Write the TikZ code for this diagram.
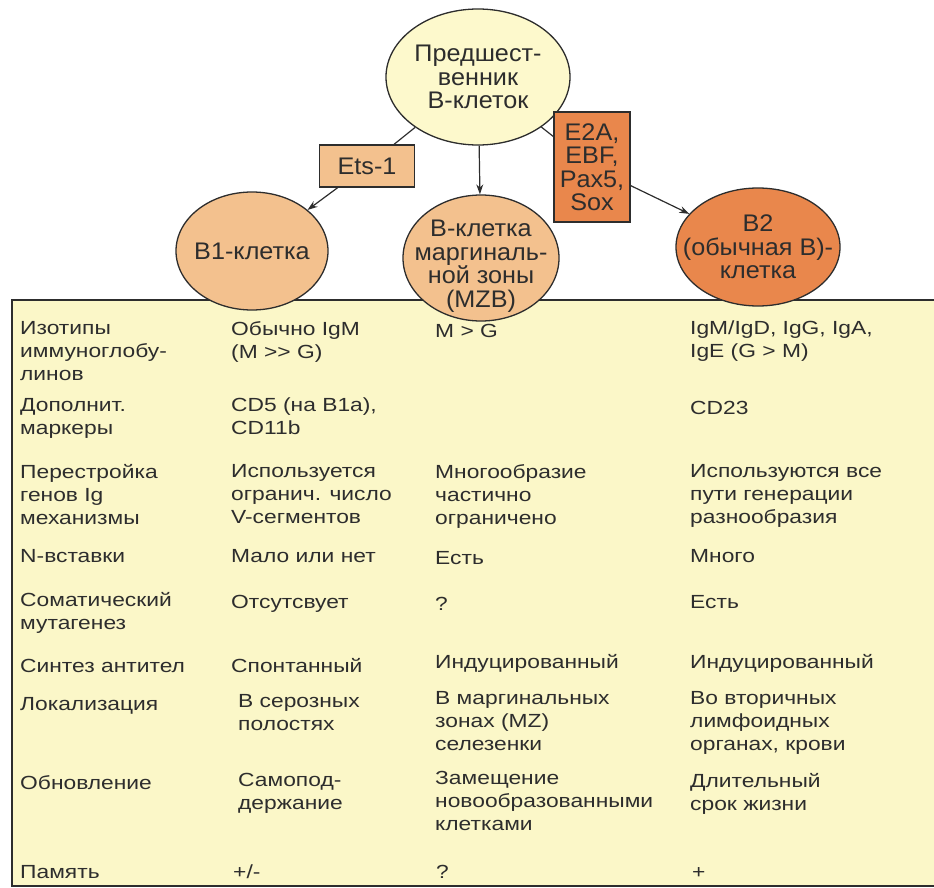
\documentclass[tikz,border=0pt]{standalone}
\usepackage{fontspec}
\setmainfont{Liberation Sans}[FakeStretch=1.2]
\newfontfamily\bubblefam{Liberation Sans}[FakeStretch=1.05]
\usetikzlibrary{shapes.geometric,arrows.meta}

\definecolor{paper}{RGB}{251,247,200}
\definecolor{pale}{RGB}{253,249,204}
\definecolor{peach}{RGB}{243,193,142}
\definecolor{deeporange}{RGB}{233,135,76}
\definecolor{ink}{RGB}{45,45,45}

\newcommand{\cellfont}{\fontsize{19}{23}\selectfont}
\newcommand{\bubblefont}{\bubblefam\fontsize{24}{23.5}\selectfont}

\tikzset{
  bubble/.style={ellipse, draw=ink, line width=1.3pt, inner sep=0pt},
  bubbletext/.style={align=center, text=ink, font=\bubblefont, inner sep=0pt},
  tfbox/.style={rectangle, draw=ink, line width=1.2pt, inner sep=0pt,
    align=center, text=ink, font=\bubblefont},
  conn/.style={draw=ink, line width=1.2pt},
  arrowconn/.style={conn, -{Stealth[length=10pt,width=7pt]}},
  frame/.style={draw=ink, line width=1.7pt},
  cell/.style={anchor=north west, inner sep=0pt, align=left, text=ink,
    font=\cellfont, execute at begin node=\strut},
}

\begin{document}
\begin{tikzpicture}[x=1pt, y=-1pt]
\useasboundingbox (0,0) rectangle (934,888);

% comparison table
\fill[paper] (12,300) rectangle (934,886);
\draw[frame] (934,300) -- (12,300) -- (12,886) -- (934,886);

% precursor and the three B-cell subsets
\node[bubble, fill=pale, minimum width=184pt, minimum height=136pt,
  label={[bubbletext]center:{Предшест-\\венник\\В-клеток}}] (pre) at (478,77) {};
\node[bubble, fill=peach, minimum width=152pt, minimum height=118pt,
  label={[bubbletext]center:{В1-клетка}}] (b1) at (252,251) {};
\node[bubble, fill=peach, minimum width=156pt, minimum height=126pt,
  label={[bubbletext, yshift=-8pt]center:{В-клетка\\маргиналь-\\ной зоны\\(MZB)}}] (mzb) at (481,258) {};
\node[bubble, fill=deeporange, minimum width=164pt, minimum height=118pt,
  label={[bubbletext]center:{В2\\(обычная В)-\\клетка}}] (b2) at (758,247) {};

% transcription factors
\node[tfbox, fill=peach, minimum width=95pt, minimum height=42pt] (ets) at (367,166) {Ets-1};
\node[tfbox, fill=deeporange, minimum width=76pt, minimum height=110pt] (e2a) at (592,167) {E2A,\\EBF,\\Pax5,\\Sox};

% lineage connectors
\draw[conn] (pre) -- (ets);
\draw[arrowconn] (ets) -- (b1);
\draw[arrowconn] (pre) -- (mzb);
\draw[conn] (pre) -- (e2a);
\draw[arrowconn] (e2a) -- (b2);

% row 1
\node[cell] (r1a) at (20,321) {Изотипы\\иммуноглобу-\\линов};
\node[cell] (r1b) at (231,321) {Обычно IgM\\(M >{}> G)};
\node[cell] (r1c) at (435,321) {M > G};
\node[cell] (r1d) at (690,321) {IgM/IgD, IgG, IgA,\\IgE (G > M)};
% row 2
\node[cell] (r2a) at (20,398) {Дополнит.\\маркеры};
\node[cell] (r2b) at (231,398) {CD5 (на B1a),\\CD11b};
\node[cell] (r2d) at (690,398) {CD23};
% row 3
\node[cell] (r3a) at (20,464) {Перестройка\\генов Ig\\механизмы};
\node[cell] (r3b) at (231,464) {Используется\\огранич. число\\V-сегментов};
\node[cell] (r3c) at (435,464) {Многообразие\\частично\\ограничено};
\node[cell] (r3d) at (690,464) {Используются все\\пути генерации\\разнообразия};
% row 4
\node[cell] (r4a) at (20,546) {N-вставки};
\node[cell] (r4b) at (231,546) {Мало или нет};
\node[cell] (r4c) at (435,548) {Есть};
\node[cell] (r4d) at (690,546) {Много};
% row 5
\node[cell] (r5a) at (20,592) {Соматический\\мутагенез};
\node[cell] (r5b) at (231,592) {Отсутсвует};
\node[cell] (r5c) at (435,594) {?};
\node[cell] (r5d) at (690,592) {Есть};
% row 6
\node[cell] (r6a) at (20,656) {Синтез антител};
\node[cell] (r6b) at (231,656) {Спонтанный};
\node[cell] (r6c) at (435,652) {Индуцированный};
\node[cell] (r6d) at (690,652) {Индуцированный};
% row 7
\node[cell] (r7a) at (20,694) {Локализация};
\node[cell] (r7b) at (238,694) {В серозных\\полостях};
\node[cell] (r7c) at (435,691) {В маргинальных\\зонах (MZ)\\селезенки};
\node[cell] (r7d) at (690,691) {Во вторичных\\лимфоидных\\органах, крови};
% row 8
\node[cell] (r8a) at (20,773) {Обновление};
\node[cell] (r8b) at (238,773) {Самопод-\\держание};
\node[cell] (r8c) at (435,771) {Замещение\\новообразованными\\клетками};
\node[cell] (r8d) at (690,773) {Длительный\\срок жизни};
% row 9
\node[cell] (r9a) at (20,862) {Память};
\node[cell] (r9b) at (233,862) {+/-};
\node[cell] (r9c) at (436,862) {?};
\node[cell] (r9d) at (692,862) {+};
\end{tikzpicture}
\end{document}
